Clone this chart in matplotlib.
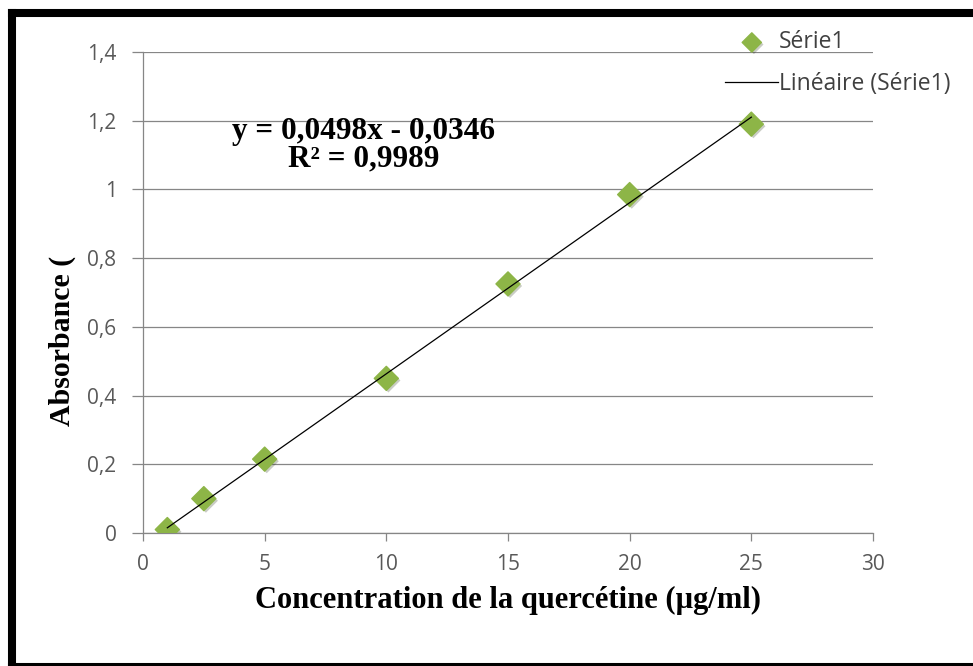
import numpy as np
import matplotlib.pyplot as plt
from matplotlib.lines import Line2D
import matplotlib.patheffects as pe

# Quercetin calibration data
concentration = [1, 2.5, 5, 10, 15, 20, 25]
absorbance = [0.01, 0.10, 0.215, 0.45, 0.725, 0.985, 1.19]
slope = 0.0498
intercept = -0.0346
x_ticks = [0, 5, 10, 15, 20, 25, 30]
y_ticks = [0, 0.2, 0.4, 0.6, 0.8, 1, 1.2, 1.4]
y_tick_labels = ['0', '0,2', '0,4', '0,6', '0,8', '1', '1,2', '1,4']

fig = plt.figure(figsize=(973 / 100, 666 / 100), dpi=100)
ax = fig.add_axes([143 / 973, 1 - 533 / 666, 730 / 973, 481 / 666])

grey = '#868686'
ax.scatter(concentration, absorbance, marker='D', s=150, color='#8DB547',
           zorder=3, label='Série1',
           path_effects=[pe.SimplePatchShadow(offset=(1.5, -1.5), alpha=0.25),
                         pe.Normal()])
fit_x = np.array([concentration[0], concentration[-1]])
ax.plot(fit_x, slope * fit_x + intercept, color='black', lw=0.9, zorder=4,
        label='Linéaire (Série1)')

ax.set_xlim(0, 30)
ax.set_ylim(0, 1.4)
ax.set_xticks(x_ticks)
ax.set_xticklabels([str(t) for t in x_ticks])
ax.set_yticks(y_ticks)
ax.set_yticklabels(y_tick_labels)
ax.grid(axis='y', color=grey, lw=0.9)
ax.set_axisbelow(True)
for s in ['top', 'right']:
    ax.spines[s].set_visible(False)
for s in ['left', 'bottom']:
    ax.spines[s].set_color(grey)
    ax.spines[s].set_linewidth(0.9)
ax.tick_params(axis='both', colors=grey, labelcolor='#595959', width=0.9,
               labelsize=15, direction='out')
ax.tick_params(axis='y', length=8, pad=11)
ax.tick_params(axis='x', length=6, pad=9)
for lab in ax.get_xticklabels() + ax.get_yticklabels():
    lab.set_family('Open Sans')

ax.set_xlabel('Concentration de la quercétine (µg/ml)', family='Liberation Serif',
              fontweight='bold', fontsize=22, labelpad=8)
fig.text(62 / 973, 1 - 426 / 666, 'Absorbance (', rotation=90, ha='center', va='bottom',
         family='Liberation Serif', fontweight='bold', fontsize=21.5)

eq_font = dict(family='Liberation Serif', fontweight='bold', fontsize=22.5,
               ha='center', va='center', transform=fig.transFigure)
fig.text(364 / 973, 1 - 131 / 666, 'y = 0,0498x - 0,0346', **eq_font)
fig.text(364 / 973, 1 - 159 / 666, 'R² = 0,9989', **eq_font)

leg = ax.legend(loc='upper left', bbox_to_anchor=(714 / 973, 1 - 19 / 666),
                bbox_transform=fig.transFigure, frameon=False,
                handlelength=2.3, handletextpad=0.05, labelspacing=0.75,
                borderpad=0, markerscale=0.8,
                prop={'family': 'Open Sans', 'size': 16.5})
for t in leg.get_texts():
    t.set_color('#404040')

# black frame around the picture (right side is cut off in the original)
frame = dict(color='black', lw=5.8, transform=fig.transFigure, solid_capstyle='projecting')
fig.add_artist(Line2D([12 / 973, 1.2], [1 - 13 / 666, 1 - 13 / 666], **frame))
fig.add_artist(Line2D([12 / 973, 12 / 973], [1 - 13 / 666, -0.2], **frame))
fig.add_artist(Line2D([12 / 973, 1.2], [1 - 667 / 666, 1 - 667 / 666], **frame))

fig.savefig('out.png', dpi=100)
